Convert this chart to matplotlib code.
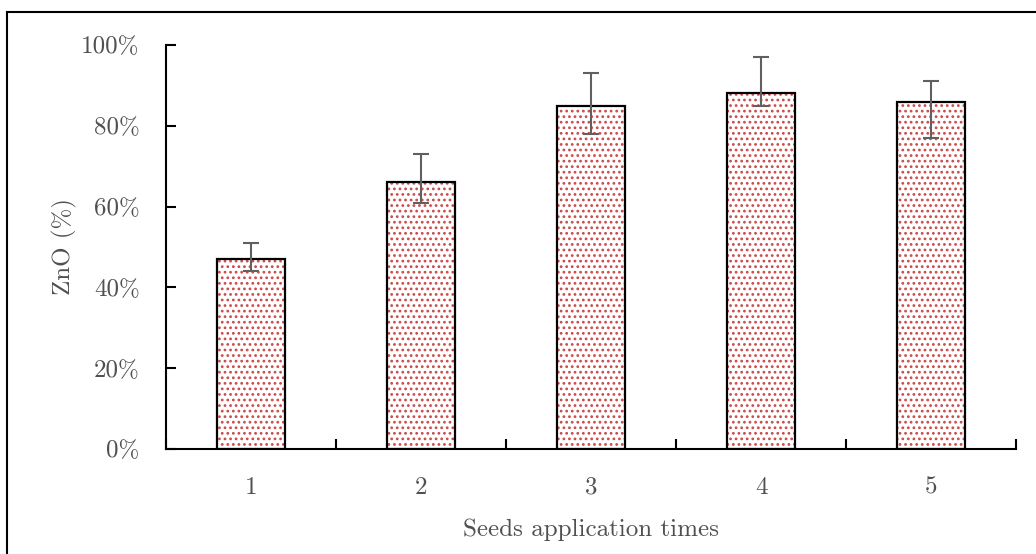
import matplotlib
matplotlib.use("Agg")
import matplotlib.pyplot as plt
from matplotlib.ticker import PercentFormatter, FixedLocator, NullFormatter
from matplotlib.patches import Rectangle
import numpy as np

categories = ["1", "2", "3", "4", "5"]
values = [0.47, 0.66, 0.85, 0.88, 0.86]
err_low = [0.03, 0.05, 0.07, 0.03, 0.09]
err_high = [0.04, 0.07, 0.08, 0.09, 0.05]

plt.rcParams['font.family'] = ['cmr10', 'DejaVu Serif']
plt.rcParams['axes.formatter.use_mathtext'] = True
plt.rcParams['hatch.linewidth'] = 1.2

W, H = 1036, 554
fig = plt.figure(figsize=(W / 100, H / 100), dpi=100)
ax = fig.add_axes([166 / W, 1 - 449 / H, (1016 - 166) / W, (449 - 45) / H])

x = np.arange(len(categories))
# dotted fill
ax.bar(x, values, width=0.4, color='white', edgecolor='#C94A4A', linewidth=0,
       hatch='...', zorder=2)
# outline
ax.bar(x, values, width=0.4, fill=False, edgecolor='black', linewidth=1.6, zorder=2.5)
ax.errorbar(x, values, yerr=[err_low, err_high], fmt='none', ecolor='#606060',
            elinewidth=1.5, capsize=6, capthick=1.5, zorder=3)

ax.set_xlim(-0.5, len(categories) - 0.5)
ax.set_ylim(0, 1.0)
ax.yaxis.set_major_locator(FixedLocator(np.arange(0, 1.01, 0.2)))
ax.yaxis.set_major_formatter(PercentFormatter(xmax=1, decimals=0))

ax.xaxis.set_major_locator(FixedLocator(np.arange(-0.5, len(categories), 1.0)))
ax.xaxis.set_major_formatter(NullFormatter())
ax.xaxis.set_minor_locator(FixedLocator(x))
ax.set_xticklabels(categories, minor=True)
fs = 18
ax.tick_params(axis='x', which='major', direction='in', length=7, width=1.5, color='black')
ax.tick_params(axis='x', which='minor', length=0, pad=20, labelsize=fs, labelcolor='#505050')
ax.tick_params(axis='y', which='major', direction='in', length=7, width=1.5,
               pad=19, labelsize=fs, labelcolor='#505050')

for s in ['top', 'right']:
    ax.spines[s].set_visible(False)
for s in ['left', 'bottom']:
    ax.spines[s].set_linewidth(1.5)
    ax.spines[s].set_color('black')

ax.set_xlabel('Seeds application times', fontsize=fs, color='#505050', labelpad=14)
ax.set_ylabel('ZnO (%)', fontsize=fs, color='#505050', labelpad=3)

fig.patches.append(Rectangle((7 / W, -0.1), 1.2, 1 - 12 / H + 0.1,
                             transform=fig.transFigure, fill=False,
                             edgecolor='black', linewidth=1.5, zorder=0))

fig.savefig('out.png', dpi=100)
